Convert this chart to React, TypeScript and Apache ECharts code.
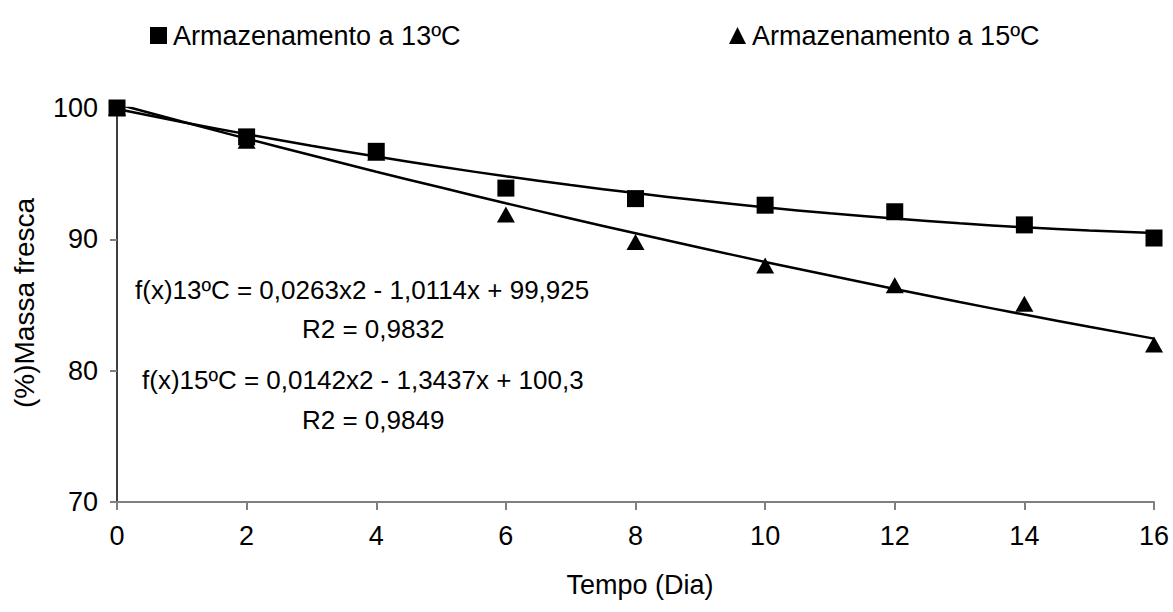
import React, { useEffect, useRef } from "react";
import * as echarts from "echarts";

const days = [0, 2, 4, 6, 8, 10, 12, 14, 16];
const mass13 = [100, 97.8, 96.7, 93.9, 93.1, 92.6, 92.1, 91.1, 90.1];
const mass15 = [100, 97.5, 96.6, 91.9, 89.8, 88.0, 86.5, 85.1, 82.0];
const trendX = [0, 1, 2, 3, 4, 5, 6, 7, 8, 9, 10, 11, 12, 13, 14, 15, 16];
const trend13 = [99.93, 98.94, 98.01, 97.13, 96.3, 95.53, 94.8, 94.13, 93.52, 92.95, 92.44, 91.98, 91.58, 91.22, 90.92, 90.67, 90.48];
const trend15 = [100.3, 98.97, 97.67, 96.4, 95.15, 93.94, 92.75, 91.59, 90.46, 89.36, 88.28, 87.24, 86.22, 85.23, 84.27, 83.34, 82.44];
const yTicks = [70, 80, 90, 100];
const seriesNames = ["Armazenamento a 13ºC", "Armazenamento a 15ºC"];
const equations = [
  "f(x)13ºC = 0,0263x2 - 1,0114x + 99,925",
  "R2 = 0,9832",
  "f(x)15ºC = 0,0142x2 - 1,3437x + 100,3",
  "R2 = 0,9849",
];
const xTitle = "Tempo (Dia)";
const yTitle = "(%)Massa fresca";

const FONT = "'Liberation Sans', Arial, sans-serif";
const FS = 26;

export default function App() {
  const ref = useRef<HTMLDivElement>(null);
  useEffect(() => {
    const chart = echarts.init(ref.current!, undefined, { renderer: "svg" });
    const legendBase = {
      top: 17,
      itemWidth: 17,
      itemHeight: 17,
      itemGap: 6,
      itemStyle: { color: "#000", opacity: 1 },
      textStyle: { fontSize: 27, color: "#000", fontFamily: FONT, padding: [0, 0, 0, 1] },
    };
    chart.setOption({
      animation: false,
      backgroundColor: "#ffffff",
      textStyle: { fontFamily: FONT },
      grid: { left: 117, right: 19, top: 108, bottom: 110 },
      legend: [
        { ...legendBase, left: 145, data: [{ name: seriesNames[0], icon: "rect" }] },
        { ...legendBase, left: 724, data: [{ name: seriesNames[1], icon: "triangle" }] },
      ],
      xAxis: {
        type: "value",
        min: 0,
        max: 16,
        interval: 2,
        axisLine: { lineStyle: { color: "#808080", width: 2 } },
        axisTick: { length: 8, lineStyle: { color: "#808080", width: 2 } },
        axisLabel: { fontSize: 27, color: "#000", margin: 20, fontFamily: FONT },
        splitLine: { show: false },
      },
      yAxis: {
        type: "value",
        min: yTicks[0],
        max: yTicks[yTicks.length - 1],
        interval: 10,
        axisLine: { show: true, lineStyle: { color: "#000", width: 1.5 } },
        axisTick: { show: true, length: 7, lineStyle: { color: "#808080", width: 2 } },
        axisLabel: { fontSize: 27, color: "#000", margin: 19, fontFamily: FONT },
        splitLine: { show: false },
      },
      graphic: [
        { type: "text", x: 135, y: 290, style: { text: equations[0], font: `${FS}px ${FONT}`, fill: "#000", textVerticalAlign: "middle" } },
        { type: "text", x: 302, y: 329, style: { text: equations[1], font: `${FS}px ${FONT}`, fill: "#000", textVerticalAlign: "middle" } },
        { type: "text", x: 142, y: 380, style: { text: equations[2], font: `${FS}px ${FONT}`, fill: "#000", textVerticalAlign: "middle" } },
        { type: "text", x: 302, y: 420, style: { text: equations[3], font: `${FS}px ${FONT}`, fill: "#000", textVerticalAlign: "middle" } },
        { type: "text", x: 640, y: 585, style: { text: xTitle, font: `27px ${FONT}`, fill: "#000", textAlign: "center", textVerticalAlign: "middle" } },
        { type: "text", x: 24, y: 303, rotation: Math.PI / 2, style: { text: yTitle, font: `28px ${FONT}`, fill: "#000", textAlign: "center", textVerticalAlign: "middle" } },
      ],
      series: [
        {
          name: "trend13",
          type: "line",
          data: trendX.map((x, i) => [x, trend13[i]]),
          showSymbol: false,
          smooth: true,
          lineStyle: { color: "#000", width: 2.5 },
          silent: true,
          z: 1,
        },
        {
          name: "trend15",
          type: "line",
          data: trendX.map((x, i) => [x, trend15[i]]),
          showSymbol: false,
          smooth: true,
          lineStyle: { color: "#000", width: 2.5 },
          silent: true,
          z: 1,
        },
        {
          name: seriesNames[1],
          type: "scatter",
          data: days.map((d, i) => [d, mass15[i]]),
          symbol: "triangle",
          symbolSize: [18, 16],
          itemStyle: { color: "#000", opacity: 1 },
          z: 2,
        },
        {
          name: seriesNames[0],
          type: "scatter",
          data: days.map((d, i) => [d, mass13[i]]),
          symbol: "rect",
          symbolSize: 17,
          itemStyle: { color: "#000", opacity: 1 },
          z: 3,
        },
      ],
    });
    return () => chart.dispose();
  }, []);
  return (
    <div
      ref={ref}
      style={{ width: 1173, height: 612, position: "absolute", left: 0, top: 0, background: "#fff" }}
    />
  );
}
